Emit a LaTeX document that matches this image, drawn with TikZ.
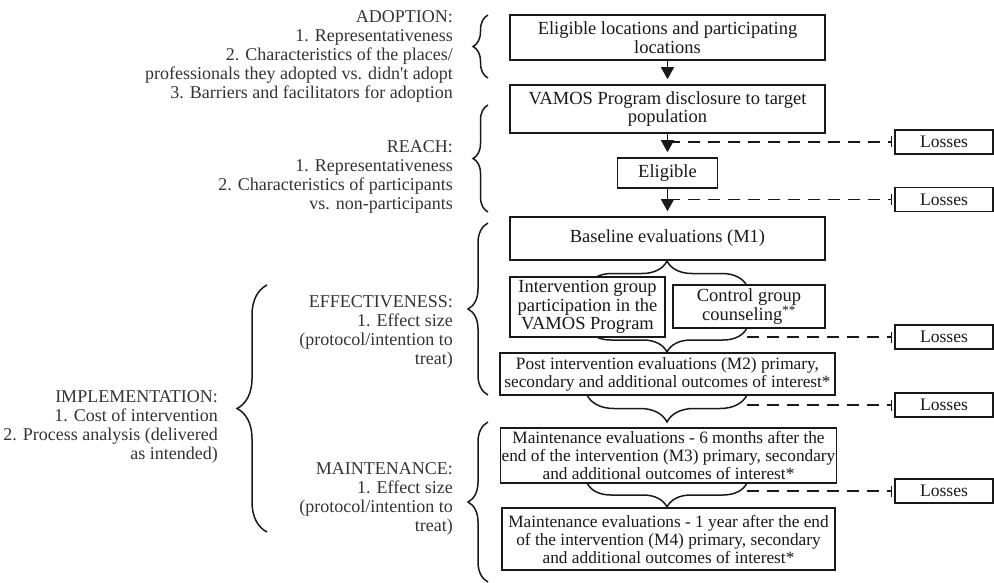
\documentclass[tikz,border=0pt]{standalone}
\usepackage{fontspec}
\setmainfont{Liberation Serif}
\usetikzlibrary{arrows.meta,decorations.pathreplacing,backgrounds}
\begin{document}
\begin{tikzpicture}[x=1pt,y=-1pt,
  box/.style={draw=black!90, line width=1.6pt, fill=white, align=center, inner sep=1pt,
    font=\fontsize{18.5}{18.5}\selectfont, text=black!90},
  smallbox/.style={box, font=\fontsize{17.3}{18}\selectfont},
  lossbox/.style={draw=black!90, line width=1.4pt, fill=white, minimum width=98pt, minimum height=24pt,
    inner sep=0pt, font=\fontsize{17.6}{18}\selectfont, text=black!90},
  lbl/.style={align=right, anchor=north east, inner sep=0pt,
    font=\fontsize{18}{19.2}\selectfont, text=black!80},
  brc/.style={decorate, decoration={brace, amplitude=#1}, line width=1.5pt, draw=black!90},
  arr/.style={-{Triangle[width=13pt,length=12pt]}, line width=1.3pt, draw=black!90, shorten >=5pt},
  dsh/.style={dash pattern=on 12pt off 8pt, line width=1.5pt, draw=black!90,
    -{Bar[width=11pt,line width=1.3pt]}, shorten >=2pt}
]
\useasboundingbox (0,0) rectangle (994,583);

% flow boxes
\node[box, minimum width=315pt, minimum height=45pt] (b1) at (667.5,37.5)
  {Eligible locations and participating\\locations};
\node[box, minimum width=315pt, minimum height=48pt] (b2) at (667.5,109)
  {VAMOS Program disclosure to target\\population};
\node[box, minimum width=100pt, minimum height=30pt] (elig) at (667.5,173) {Eligible};
\node[box, minimum width=315pt, minimum height=43pt] (base) at (667.5,238.5)
  {Baseline evaluations (M1)};
\node[box, minimum width=155pt, minimum height=60pt] (interv) at (587.5,307)
  {Intervention group\\participation in the\\VAMOS Program};
\node[box, minimum width=152pt, minimum height=43pt] (ctrl) at (749,306.5)
  {Control group\\counseling\textsuperscript{**}};
\node[smallbox, minimum width=335pt, minimum height=42pt] (post) at (667.5,374)
  {Post intervention evaluations (M2) primary,\\secondary and additional outcomes of interest*};
\node[smallbox, minimum width=333pt, minimum height=55pt] (m3) at (668.5,455.5)
  {Maintenance evaluations - 6 months after the\\end of the intervention (M3) primary, secondary\\and additional outcomes of interest*};
\node[smallbox, minimum width=333pt, minimum height=62pt] (m4) at (668.5,539)
  {Maintenance evaluations - 1 year after the end\\of the intervention (M4) primary, secondary\\and additional outcomes of interest*};

% losses
\node[lossbox] (l1) at (944,142) {Losses};
\node[lossbox] (l2) at (944,199.5) {Losses};
\node[lossbox] (l3) at (944,337) {Losses};
\node[lossbox] (l4) at (944,405) {Losses};
\node[lossbox] (l5) at (944,491) {Losses};

% dashed line start points
\coordinate (d1) at (667.5,142);
\coordinate (d2) at (667.5,199.5);
\coordinate (d3) at (747,337);
\coordinate (d4) at (747,405);
\coordinate (d5) at (747,491);

% arrows
\draw[arr] (b1) -- (b2);
\draw[arr] (b2) -- (elig);
\draw[arr] (elig) -- (base);

% dashed losses lines
\draw[dsh] (d1) -- (l1.west);
\draw[dsh] (d2) -- (l2.west);
\draw[dsh] (d3) -- (l3.west);
\draw[dsh] (d4) -- (l4.west);
\draw[dsh] (d5) -- (l5.west);

% inner braces behind the boxes
\begin{scope}[on background layer]
\draw[brc=25] (587,286) -- (747,286);
\draw[brc=24] (747,328) -- (587,328);
\draw[brc=27] (747,395) -- (587,395);
\draw[brc=24] (747,483) -- (587,483);
\end{scope}

% left braces
\draw[brc=15] (488,78) -- (488,15);
\draw[brc=15] (488,212) -- (488,105);
\draw[brc=20] (488,395) -- (488,223);
\draw[brc=20] (488,582) -- (488,422);
\draw[brc=30] (267,532) -- (267,285);

% labels
\node[lbl] (adopt) at (453,10) {ADOPTION:\\1. Representativeness\\2. Characteristics of the places/\\professionals they adopted vs. didn\textquotesingle t adopt\\3. Barriers and facilitators for adoption};
\node[lbl] (reach) at (453,140) {REACH:\\1. Representativeness\\2. Characteristics of participants\\vs. non-participants};
\node[lbl] (eff) at (453,295) {EFFECTIVENESS:\\1. Effect size\\(protocol/intention to\\treat)};
\node[lbl] (maint) at (453,462) {MAINTENANCE:\\1. Effect size\\(protocol/intention to\\treat)};
\node[lbl] (impl) at (218,390) {IMPLEMENTATION:\\1. Cost of intervention\\2. Process analysis (delivered\\as intended)};
\end{tikzpicture}
\end{document}
